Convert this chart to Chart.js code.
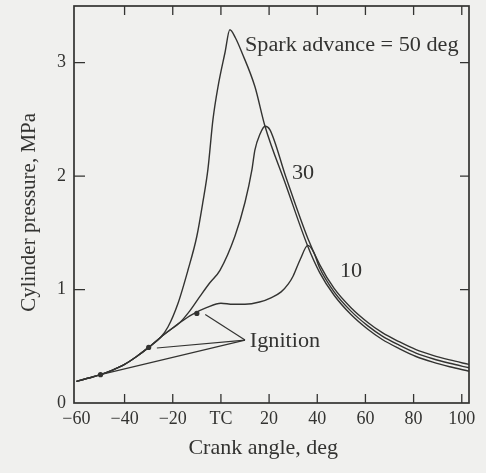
<!DOCTYPE html>
<html>
<head>
<meta charset="utf-8">
<script src="https://cdn.jsdelivr.net/npm/chart.js@4.4.1/dist/chart.umd.min.js"></script>
<style>
  html, body { margin: 0; padding: 0; background: #f0f0ee; }
  #wrap { width: 486px; height: 473px; }
</style>
</head>
<body>
<div id="wrap"><canvas id="chart" width="486" height="473"></canvas></div>
<script>
// Cylinder pressure vs crank angle, spark advance 50 / 30 / 10 deg

const angles50 = [-60, -55, -50, -45, -40, -35, -30, -25, -22, -17.8, -13.7, -10, -7.5, -5.4, -3.3, -1.2, 1.7, 3.7, 6, 8.7, 14.1, 18.3, 27, 36.1, 41, 47, 54, 61, 67, 74, 81, 88, 95, 103];
const pressure50 = [0.19, 0.22, 0.25, 0.29, 0.34, 0.41, 0.49, 0.58, 0.67, 0.88, 1.17, 1.47, 1.77, 2.06, 2.50, 2.79, 3.09, 3.29, 3.22, 3.09, 2.79, 2.44, 1.92, 1.38, 1.15, 0.95, 0.78, 0.65, 0.56, 0.48, 0.41, 0.36, 0.32, 0.28];

const angles30 = [-60, -55, -50, -45, -40, -35, -30, -25, -22, -17, -13, -8.7, -4.6, -0.4, 5.8, 10, 12.9, 14.1, 16.2, 18.3, 20.3, 27, 36.1, 41, 47, 54, 61, 67, 74, 81, 88, 95, 103];
const pressure30 = [0.19, 0.22, 0.25, 0.29, 0.34, 0.41, 0.49, 0.58, 0.63, 0.71, 0.81, 0.94, 1.06, 1.17, 1.47, 1.77, 2.06, 2.23, 2.37, 2.44, 2.41, 1.99, 1.45, 1.22, 1.01, 0.84, 0.71, 0.62, 0.54, 0.47, 0.42, 0.38, 0.34];

const angles10 = [-60, -55, -50, -45, -40, -35, -30, -25, -22, -17, -12, -6, 0, 5, 10, 16, 21, 25, 28, 30, 33, 36.1, 38.5, 41, 47, 54, 61, 67, 74, 81, 88, 95, 103];
const pressure10 = [0.19, 0.22, 0.25, 0.29, 0.34, 0.41, 0.49, 0.58, 0.63, 0.71, 0.78, 0.84, 0.88, 0.87, 0.87, 0.89, 0.93, 0.98, 1.05, 1.12, 1.27, 1.39, 1.33, 1.19, 0.98, 0.81, 0.68, 0.59, 0.51, 0.44, 0.39, 0.35, 0.31];

// ignition marks and the pointers from the "Ignition" note
const ignitionAngles = [-50, -30, -10];
const ignitionPressures = [0.25, 0.49, 0.79];
const pointerAngles = [-50, -26.6, -6.5];
const pointerPressures = [0.25, 0.485, 0.78];
const pointerOriginAngle = 10;
const pointerOriginPressure = 0.555;

// axes
const xTicks = [-60, -40, -20, 0, 20, 40, 60, 80, 100];
const xTickLabels = ['\u221260', '\u221240', '\u221220', 'TC', '20', '40', '60', '80', '100'];
const yTicks = [0, 1, 2, 3];

// notes written inside the plot
const noteTexts = ['Spark advance = 50 deg', '30', '10', 'Ignition'];
const noteAngles = [10.0, 29.5, 49.4, 12.0];
const notePressures = [3.15, 2.02, 1.16, 0.54];

const INK = '#333331';
const SERIF = '"Liberation Serif", "Times New Roman", serif';

const toPoints = (xs, ys) => xs.map((x, i) => ({ x, y: ys[i] }));

function curve(xs, ys) {
    return {
        data: toPoints(xs, ys),
        borderColor: INK,
        borderWidth: 1.4,
        pointRadius: 0,
        cubicInterpolationMode: 'monotone',
        fill: false
    };
}

const pointerSets = pointerAngles.map((a, i) => ({
    data: [{ x: pointerOriginAngle, y: pointerOriginPressure }, { x: a, y: pointerPressures[i] }],
    borderColor: INK,
    borderWidth: 1.2,
    pointRadius: 0,
    tension: 0
}));

const framePlugin = {
    id: 'frame',
    afterDatasetsDraw(chart) {
        const { ctx, chartArea: a, scales: { x, y } } = chart;
        ctx.save();
        ctx.strokeStyle = INK;
        ctx.lineWidth = 1.7;
        ctx.strokeRect(a.left, a.top, a.right - a.left, a.bottom - a.top);

        // inward tick marks on all four sides
        ctx.lineWidth = 1.3;
        ctx.beginPath();
        xTicks.slice(1).forEach(v => {
            const px = x.getPixelForValue(v);
            ctx.moveTo(px, a.bottom); ctx.lineTo(px, a.bottom - 9);
            ctx.moveTo(px, a.top); ctx.lineTo(px, a.top + 9);
        });
        yTicks.slice(1).forEach(v => {
            const py = y.getPixelForValue(v);
            ctx.moveTo(a.left, py); ctx.lineTo(a.left + 11, py);
            ctx.moveTo(a.right, py); ctx.lineTo(a.right - 9, py);
        });
        ctx.stroke();

        // the scan's lettering is a little wider than Liberation Serif
        ctx.fillStyle = INK;
        ctx.font = '20px ' + SERIF;
        ctx.textAlign = 'left';
        ctx.textBaseline = 'middle';
        noteTexts.forEach((t, i) => {
            const px = x.getPixelForValue(noteAngles[i]);
            const py = y.getPixelForValue(notePressures[i]);
            ctx.save();
            ctx.translate(px, py);
            ctx.scale(1.11, 1);
            ctx.fillText(t, 0, 0);
            ctx.restore();
        });
        ctx.restore();
    }
};

new Chart(document.getElementById('chart'), {
    type: 'line',
    data: {
        datasets: [
            curve(angles50, pressure50),
            curve(angles30, pressure30),
            curve(angles10, pressure10),
            ...pointerSets,
            {
                data: toPoints(ignitionAngles, ignitionPressures),
                showLine: false,
                pointRadius: 2.6,
                pointBackgroundColor: INK,
                pointBorderWidth: 0
            }
        ]
    },
    options: {
        responsive: false,
        animation: false,
        layout: { padding: { left: 8, right: 17, top: 6, bottom: 12 } },
        plugins: { legend: { display: false }, tooltip: { enabled: false } },
        scales: {
            x: {
                type: 'linear',
                min: -61,
                max: 103,
                grid: { display: false, drawTicks: false },
                border: { display: false },
                afterBuildTicks: s => { s.ticks = xTicks.map(v => ({ value: v })); },
                afterFit: s => { s.height = 58; s.paddingLeft = 0; s.paddingRight = 0; },
                ticks: {
                    padding: 5,
                    color: INK,
                    font: { family: SERIF, size: 18 },
                    maxRotation: 0,
                    autoSkip: false,
                    callback: v => xTickLabels[xTicks.indexOf(v)]
                },
                title: {
                    display: true,
                    // trailing spaces nudge the centred title a little left, as in the scan
                    text: 'Crank angle, deg   ',
                    color: INK,
                    font: { family: SERIF, size: 22 },
                    padding: { top: 0, bottom: 0 }
                }
            },
            y: {
                min: 0,
                max: 3.5,
                grid: { display: false, drawTicks: false },
                border: { display: false },
                afterBuildTicks: s => { s.ticks = yTicks.map(v => ({ value: v })); },
                afterFit: s => { s.width = 66; s.paddingTop = 0; s.paddingBottom = 0; },
                ticks: {
                    padding: 8,
                    color: INK,
                    font: { family: SERIF, size: 18 }
                },
                title: {
                    display: true,
                    text: 'Cylinder pressure, MPa   ',
                    color: INK,
                    font: { family: SERIF, size: 21 },
                    padding: { top: 9, bottom: 0 }
                }
            }
        }
    },
    plugins: [framePlugin]
});
</script>
</body>
</html>
